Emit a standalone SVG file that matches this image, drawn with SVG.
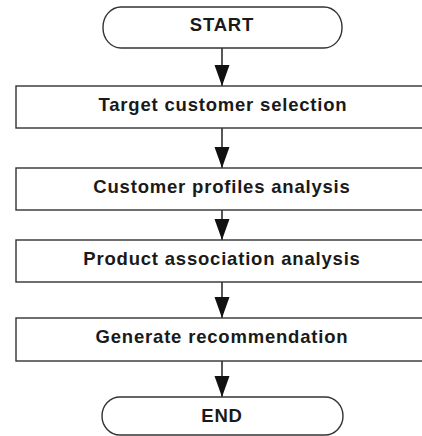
<svg xmlns="http://www.w3.org/2000/svg" width="422" height="436" viewBox="0 0 422 436">
  <defs>
    <style>
      .shape { fill: #ffffff; stroke: #333333; stroke-width: 1.4; }
      .label { font-family: "Liberation Sans", Arial, sans-serif; font-weight: bold; font-size: 18.5px; letter-spacing: 0.8px; fill: #1a1a1a; text-anchor: middle; }
      .link { stroke: #111111; stroke-width: 1.4; fill: none; }
    </style>
    <!-- filled arrowhead, tip at the end of the line -->
    <marker id="head" markerUnits="userSpaceOnUse" markerWidth="22" markerHeight="16" viewBox="0 0 22 16" refX="21" refY="8" orient="auto">
      <path d="M0 0.5 L21 8 L0 15.5 Z" fill="#111111"/>
    </marker>
  </defs>
  <rect width="422" height="436" fill="#ffffff"/>

  <g id="connectors">
    <line class="link" x1="222" y1="48" x2="222" y2="86" marker-end="url(#head)"/>
    <line class="link" x1="222" y1="128" x2="222" y2="168" marker-end="url(#head)"/>
    <line class="link" x1="222" y1="210" x2="222" y2="240" marker-end="url(#head)"/>
    <line class="link" x1="222" y1="282" x2="222" y2="318" marker-end="url(#head)"/>
    <line class="link" x1="222" y1="361" x2="222" y2="397" marker-end="url(#head)"/>
  </g>

  <g id="start">
    <rect class="shape" x="103" y="7" width="239" height="41" rx="18" ry="20"/>
    <text class="label" x="222" y="31">START</text>
  </g>

  <g id="target-selection">
    <rect class="shape" x="16" y="86" width="420" height="42"/>
    <text class="label" x="223" y="111">Target customer selection</text>
  </g>

  <g id="profiles-analysis">
    <rect class="shape" x="16" y="168" width="420" height="42"/>
    <text class="label" x="222" y="193">Customer profiles analysis</text>
  </g>

  <g id="association-analysis">
    <rect class="shape" x="16" y="240" width="420" height="42"/>
    <text class="label" x="222" y="265">Product association analysis</text>
  </g>

  <g id="recommendation">
    <rect class="shape" x="16" y="318" width="420" height="43"/>
    <text class="label" x="222" y="343">Generate recommendation</text>
  </g>

  <g id="end">
    <rect class="shape" x="102" y="397" width="241" height="38" rx="18" ry="19"/>
    <text class="label" x="222" y="422">END</text>
  </g>
</svg>
